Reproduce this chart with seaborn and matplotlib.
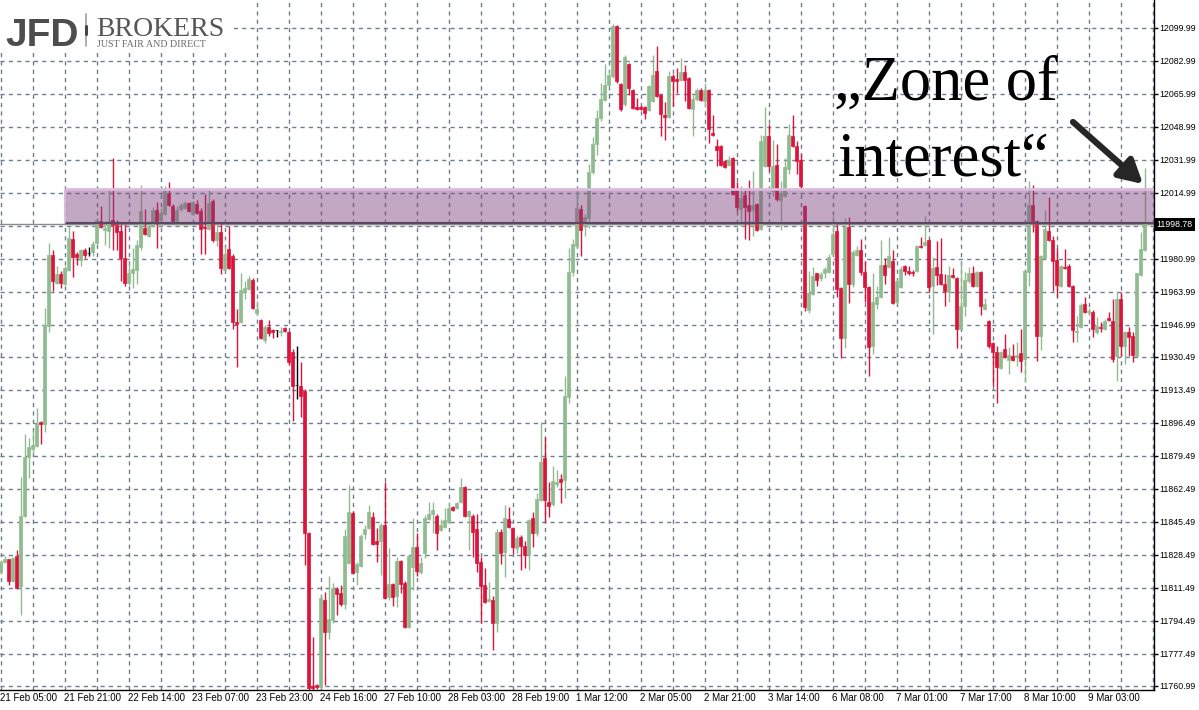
import matplotlib

matplotlib.use("Agg")
import matplotlib.pyplot as plt
import matplotlib.patheffects as pe
from matplotlib.lines import Line2D
from matplotlib.patches import Rectangle
import numpy as np
import seaborn as sns

# hourly DAX candles, 21 Feb 05:00 .. 9 Mar (one entry per bar)
open_ = [
    11819.5, 11825, 11826.5, 11815, 11828, 11812.5, 11848.5, 11879, 11883, 11884.5,
    11897, 11896, 11946.5, 11983, 11968.5, 11973, 11968, 11975.5, 11991.5, 11983.5,
    11980.5, 11985.5, 11984, 11984.5, 11989, 12000.5, 11996, 11995.5, 12001, 11999,
    11995.5, 11981.5, 11968.5, 11973.5, 11975.5, 11987, 11997, 11993, 11998, 12006,
    12001, 12004, 12014.5, 12008.5, 12000.5, 12006.5, 12007, 12010, 12004, 12009.5,
    12005.5, 11997.5, 11996.5, 12011, 11990.5, 11995, 11975.5, 11986, 11982.5, 11948.5,
    11948.5, 11964, 11965.5, 11970, 11953, 11949.5, 11939, 11946, 11944.5, 11944.5,
    11943.5, 11945.5, 11943.5, 11933, 11916, 11915.5, 11913, 11840, 11761, 11761.5,
    11760.5, 11805.5, 11789, 11795, 11811, 11809, 11803, 11824.5, 11850, 11819.5,
    11823, 11839.5, 11842.5, 11848, 11835.5, 11835.5, 11844, 11807, 11813.5, 11807.5,
    11825.5, 11814, 11791.5, 11822.5, 11832.5, 11819.5, 11829.5, 11847, 11849.5, 11848.5,
    11841.5, 11843, 11845.5, 11853, 11852.5, 11856, 11863.5, 11848.5, 11848.5, 11842,
    11825, 11813, 11804.5, 11805.5, 11793.5, 11840.5, 11830, 11847, 11842.5, 11832,
    11837.5, 11833, 11828.5, 11847.5, 11840, 11857, 11878.5, 11856, 11854.5, 11865,
    11867.5, 11867, 11910, 11974.5, 11987.5, 12006.5, 11998, 12002, 12026, 12040,
    12053.5, 12063, 12070.5, 12075.5, 12101, 12071, 12061, 12081.5, 12068, 12059.5,
    12059.5, 12059.5, 12057.5, 12062.5, 12078, 12065.5, 12055, 12054, 12075, 12073.5,
    12073, 12077.5, 12074, 12058, 12063.5, 12068, 12062.5, 12068, 12046, 12039,
    12039, 12031.5, 12029.5, 12033, 12017, 12006.5, 12014, 12009, 12006, 12009.5,
    11996.5, 12029, 12044.5, 12016, 12029.5, 12011.5, 12013.5, 12027.5, 12044.5, 12039,
    12032, 12008.5, 11954.5, 11963, 11973.5, 11971, 11973.5, 11974.5, 11983.5, 11995.5,
    11966, 11940.5, 11997.5, 11968, 11983, 11985.5, 11974.5, 11966.5, 11936, 11958,
    11961.5, 11978, 11977, 11980, 11959, 11966.5, 11977.5, 11975, 11974.5, 11975,
    11987.5, 11988, 11991, 11967, 11977, 11973, 11968, 11964, 11972.5, 11971,
    11945, 11956.5, 11969.5, 11974, 11967, 11974.5, 11955, 11949, 11937.5, 11933,
    11925, 11934.5, 11929, 11931, 11930.5, 11932.5, 11929.5, 11974.5, 12009, 12000.5,
    11941.5, 11981.5, 11995.5, 11990.5, 11980.5, 11967, 11977, 11977.5, 11967, 11943.5,
    11946, 11958, 11953.5, 11953.5, 11943.5, 11946, 11945, 11950.5, 11949, 11931,
    11960.5, 11936, 11943.5, 11941.5, 11931, 11972.5, 11985.5,
]
high_ = [
    11826, 11828, 11826.5, 11827.5, 11831, 11868.5, 11891, 11888.5, 11893, 11904,
    11897.5, 11955.5, 11989, 11985.5, 11977.5, 11975, 11977.5, 11997.5, 11995.5, 11984.5,
    11986, 11986.5, 11987, 11990, 12002, 12008.5, 12000.5, 12016.5, 12033, 12001,
    11999, 11999, 11978.5, 11986.5, 11990.5, 12019, 12006.5, 12000.5, 12008, 12010.5,
    12007, 12018.5, 12020.5, 12009.5, 12008.5, 12010, 12011, 12010.5, 12011, 12011.5,
    12007, 12014.5, 12016.5, 12012, 11997.5, 11999, 11987.5, 11998, 11983.5, 11955,
    11973.5, 11969.5, 11972, 11971, 11959.5, 11950, 11947, 11949.5, 11945, 11944.5,
    11946, 11946, 11944, 11934.5, 11936, 11928, 11914, 11840.5, 11786, 11762,
    11808, 11809.5, 11817.5, 11814, 11812, 11813, 11842, 11864.5, 11851, 11825,
    11839.5, 11844, 11854, 11850.5, 11842.5, 11845, 11866, 11832, 11814, 11827.5,
    11826, 11815, 11828.5, 11847.5, 11840, 11827.5, 11849, 11856, 11856, 11849.5,
    11847, 11852.5, 11856, 11853.5, 11856, 11868, 11864, 11851.5, 11849.5, 11849.5,
    11827.5, 11822, 11814.5, 11807.5, 11842, 11842, 11854, 11853, 11843, 11839,
    11839, 11835.5, 11847, 11850.5, 11860.5, 11897, 11889.5, 11866, 11874.5, 11872.5,
    11870, 11920.5, 11986.5, 11991.5, 12017.5, 12009, 12004, 12030, 12044, 12057.5,
    12071.5, 12081.5, 12078.5, 12102, 12101.5, 12071.5, 12086, 12082, 12068.5, 12064,
    12060.5, 12060, 12070.5, 12086, 12090.5, 12066, 12062, 12078, 12076.5, 12079.5,
    12084.5, 12081, 12074.5, 12065.5, 12069, 12069, 12071.5, 12068.5, 12055, 12043,
    12039.5, 12032, 12034, 12033.5, 12020.5, 12018.5, 12017.5, 12021.5, 12026.5, 12010,
    12045, 12059.5, 12050.5, 12042.5, 12040, 12021, 12033, 12050.5, 12055, 12041.5,
    12035, 12009, 11975, 11977, 11974, 11974.5, 11977, 11983.5, 12003, 11999,
    11966.5, 12002, 12002.5, 11985.5, 11987.5, 11991.5, 11980, 11967, 11973.5, 11967,
    11990.5, 11981.5, 11992.5, 11985.5, 11970.5, 11977.5, 11978, 11977.5, 11975.5, 11988,
    11992.5, 12003, 11991.5, 11982, 11990, 11992, 11973, 11977.5, 11976.5, 11971.5,
    11979.5, 11974.5, 11977, 11977.5, 11975, 11975, 11961, 11949.5, 11938, 11936,
    11933.5, 11942.5, 11935.5, 11937, 11938, 11945, 11975.5, 12021, 12019, 12001,
    11983, 12006, 12013, 11993, 11986.5, 11978, 11986, 11978.5, 11967.5, 11951.5,
    11958.5, 11961.5, 11955.5, 11954.5, 11951, 11948.5, 11950, 11953.5, 11960.5, 11964.5,
    11964, 11944, 11946, 11943.5, 11974, 11995, 12028,
]
low_ = [
    11818.5, 11824.5, 11813, 11814.5, 11811, 11797.5, 11848, 11868, 11880.5, 11884,
    11885.5, 11892, 11943.5, 11964.5, 11968, 11966, 11967.5, 11975, 11971.5, 11978,
    11977.5, 11981.5, 11982.5, 11982.5, 11988.5, 11997, 11988, 11986.5, 11985.5, 11985.5,
    11969.5, 11967, 11967.5, 11966, 11968, 11985.5, 11993.5, 11992.5, 11997.5, 11986.5,
    11998.5, 12003.5, 12008.5, 11999.5, 11998, 12005.5, 12006.5, 12005, 12003.5, 12004,
    11983.5, 11983.5, 11996, 11989.5, 11987.5, 11973, 11975, 11976, 11945, 11925.5,
    11948, 11960.5, 11965, 11955, 11952, 11939.5, 11937.5, 11941.5, 11940.5, 11941,
    11941.5, 11943.5, 11926.5, 11897.5, 11909, 11899.5, 11823.5, 11759, 11759, 11759.5,
    11759.5, 11761.5, 11785, 11793.5, 11797.5, 11802, 11800.5, 11824, 11818.5, 11813,
    11822.5, 11836.5, 11842, 11833.5, 11825, 11818, 11806, 11805.5, 11802, 11801.5,
    11809, 11791, 11791, 11810.5, 11817.5, 11818.5, 11827, 11846.5, 11840, 11831,
    11841, 11842.5, 11845, 11851, 11852, 11855.5, 11848, 11831, 11827.5, 11819.5,
    11793.5, 11803.5, 11804, 11779.5, 11789, 11824, 11817, 11842.5, 11829.5, 11829.5,
    11820.5, 11821.5, 11820.5, 11832.5, 11838.5, 11856.5, 11845.5, 11848, 11853.5, 11863.5,
    11855.5, 11858, 11907, 11972, 11987, 11982.5, 11993, 11997, 12025, 12034.5,
    12052, 12062.5, 12070, 12074, 12071.5, 12057, 12060, 12065.5, 12058, 12057.5,
    12057.5, 12053, 12057, 12062, 12064.5, 12044.5, 12042.5, 12053.5, 12060, 12066.5,
    12072.5, 12062.5, 12058, 12044.5, 12062.5, 12062.5, 12059.5, 12040.5, 12044.5, 12029,
    12029, 12028, 12029, 12014, 12005.5, 11998, 11991.5, 11990.5, 11993, 11995.5,
    11996, 12028.5, 12026.5, 12013.5, 12011, 11996, 12013, 12025, 12038.5, 12025,
    12016.5, 11954, 11953, 11962.5, 11967, 11969.5, 11971, 11974, 11983, 11961.5,
    11930, 11935, 11958.5, 11966.5, 11982.5, 11972.5, 11959, 11920.5, 11932, 11955,
    11961, 11968, 11976.5, 11958, 11958, 11966, 11972.5, 11972.5, 11972, 11974.5,
    11986.5, 11987.5, 11964, 11942.5, 11967.5, 11967.5, 11957, 11959, 11971, 11935,
    11944.5, 11951.5, 11968.5, 11966.5, 11966.5, 11952, 11954.5, 11935, 11915.5, 11907,
    11924.5, 11930, 11921.5, 11928.5, 11926, 11922.5, 11917.5, 11967, 11995, 11928.5,
    11934, 11981, 11990, 11964.5, 11961.5, 11966.5, 11976, 11966.5, 11938, 11938,
    11945.5, 11953, 11952.5, 11941, 11942.5, 11943.5, 11944.5, 11949, 11928, 11918,
    11931, 11927, 11931, 11928, 11930.5, 11972, 11985,
]
close_ = [
    11825, 11826.5, 11815, 11827, 11811.5, 11848.5, 11879, 11884, 11885, 11896.5,
    11896, 11947, 11983, 11969.5, 11973, 11968.5, 11976.5, 11992, 11982, 11982,
    11985.5, 11983, 11984, 11988.5, 12001, 11997.5, 11997, 12000.5, 11998.5, 11995,
    11981.5, 11968.5, 11973.5, 11976, 11988, 12005.5, 11994, 11998, 12006, 12000.5,
    12004.5, 12017.5, 12009, 12000.5, 12006, 12009, 12010, 12005.5, 12010.5, 12004.5,
    11996.5, 11997, 12010, 11990.5, 11995, 11976.5, 11983.5, 11976.5, 11948.5, 11947.5,
    11965, 11966, 11970.5, 11955.5, 11955, 11940, 11946, 11943, 11943.5, 11944.5,
    11944, 11944, 11928, 11915.5, 11916, 11910.5, 11840, 11760, 11760, 11760.5,
    11806.5, 11789, 11795.5, 11811.5, 11808.5, 11803, 11838, 11850.5, 11819, 11824,
    11838, 11842, 11850.5, 11834, 11834, 11844, 11806.5, 11813.5, 11807, 11825.5,
    11813.5, 11791.5, 11828, 11832.5, 11820, 11824.5, 11847.5, 11849.5, 11851.5, 11840,
    11844, 11846.5, 11852.5, 11851.5, 11855.5, 11863.5, 11848.5, 11851, 11840.5, 11824.5,
    11812.5, 11804, 11806, 11793.5, 11840.5, 11829.5, 11847.5, 11843, 11832.5, 11837,
    11833, 11828.5, 11846.5, 11840, 11857.5, 11876.5, 11857, 11853.5, 11866.5, 11866,
    11866, 11910.5, 11974.5, 11988.5, 12007, 11996, 12002.5, 12026, 12040, 12053.5,
    12063.5, 12070.5, 12076, 12101, 12072.5, 12058, 12085, 12069, 12058.5, 12058,
    12058, 12056, 12070, 12076, 12065, 12055.5, 12054, 12075.5, 12072.5, 12072.5,
    12077.5, 12073, 12058.5, 12063.5, 12068, 12063, 12068, 12048, 12045, 12037,
    12029.5, 12028.5, 12032, 12014.5, 12008, 12012.5, 12008, 12005.5, 12009, 11996,
    12042, 12044.5, 12029, 12029, 12012, 12015, 12028.5, 12045, 12039, 12031.5,
    12018.5, 11956, 11963.5, 11972, 11970, 11973, 11976, 11982, 11994, 11965.5,
    11940.5, 11997.5, 11968, 11984.5, 11985.5, 11974.5, 11966.5, 11935.5, 11959, 11961.5,
    11978, 11972.5, 11982.5, 11958.5, 11969.5, 11976, 11975, 11973.5, 11974, 11987.5,
    11987, 11989.5, 11966.5, 11976.5, 11972.5, 11968, 11964.5, 11972.5, 11971.5, 11945,
    11956.5, 11970, 11974, 11967, 11974.5, 11957, 11958, 11936, 11933, 11925.5,
    11933, 11930.5, 11931.5, 11929, 11931.5, 11928.5, 11975, 12009, 12000.5, 11941.5,
    11982.5, 11996.5, 11990.5, 11980, 11967.5, 11977.5, 11976.5, 11967, 11944.5, 11944,
    11957.5, 11953.5, 11954, 11945, 11946.5, 11945.5, 11949, 11949.5, 11929.5, 11960.5,
    11936, 11943.5, 11941, 11931.5, 11973.5, 11986, 11998.78,
]

time_labels = [
    "21 Feb 05:00", "21 Feb 21:00", "22 Feb 14:00", "23 Feb 07:00", "23 Feb 23:00",
    "24 Feb 16:00", "27 Feb 10:00", "28 Feb 03:00", "28 Feb 19:00", "1 Mar 12:00",
    "2 Mar 05:00", "2 Mar 21:00", "3 Mar 14:00", "6 Mar 08:00", "7 Mar 01:00",
    "7 Mar 17:00", "8 Mar 10:00", "9 Mar 03:00",
]
price_ticks = [
    12099.99, 12082.99, 12065.99, 12048.99, 12031.99, 12014.99, 11997.99, 11980.99,
    11963.99, 11946.99, 11930.49, 11913.49, 11896.49, 11879.49, 11862.49, 11845.49,
    11828.49, 11811.49, 11794.49, 11777.49, 11760.99,
]
price_labels = [
    "12099.99", "12082.99", "12065.99", "12048.99", "12031.99", "12014.99", "",
    "11980.99", "11963.99", "11946.99", "11930.49", "11913.49", "11896.49", "11879.49",
    "11862.49", "11845.49", "11828.49", "11811.49", "11794.49", "11777.49", "11760.99",
]
last_price = 11998.78
zone_low, zone_high = 11999.7, 12016.8
zone_start = 16  # bar index where the marked zone begins

sns.set_style("white")
plt.rcParams["font.family"] = ["Liberation Sans", "DejaVu Sans"]

BULL = "#8fbc8f"
BEAR = "#dc143c"
GRID = "#6f7d90"

o = np.array(open_)
h = np.array(high_)
l = np.array(low_)
c = np.array(close_)
n = len(c)
x = np.arange(n)
colors = np.where(c > o, BULL, np.where(c < o, BEAR, "black"))

fig = plt.figure(figsize=(11.99, 7.10), dpi=100)
ax = fig.add_axes([0, 20 / 710, 1154 / 1199, 690 / 710])
x_right = n + 1.375
ax.set_xlim(-0.125, x_right)
ax.set_ylim(11758.9, 12114.4)

# dashed grid (MT4 style)
dash = (0, (3, 3))
for t in price_ticks:
    ax.axhline(t, color=GRID, lw=1, ls=dash, zorder=0)
for k in range(0, n + 2, 8):
    ax.axvline(k, color=GRID, lw=1, ls=dash, zorder=0)

ax.axhline(last_price, color="#8a8a8a", lw=1, zorder=1)

# candles
ax.vlines(x, l, h, colors=colors, lw=1, zorder=2)
ax.bar(x, c - o, bottom=o, width=0.72, color=colors, edgecolor=colors, lw=0.5, zorder=3)

# zone of interest
ax.add_patch(Rectangle((zone_start, zone_low - 2.2), x_right - zone_start, 2.2,
                       facecolor="#9a9a9a", alpha=0.18, lw=0, zorder=4))
ax.add_patch(Rectangle((zone_start, zone_low), x_right - zone_start, zone_high - zone_low,
                       facecolor="#7b3f7e", alpha=0.45, lw=0, zorder=4))
ax.hlines(zone_high, zone_start, x_right, color="#dcb9de", lw=2, zorder=4.2)
ax.hlines(zone_low, zone_start, x_right, color="#5b4862", lw=1.5, zorder=4.2)
ax.vlines(zone_start, zone_low, zone_high, color="#dcb9de", lw=1.5, zorder=4.2)

# axes / ticks
for side in ("top", "left"):
    ax.spines[side].set_visible(False)
for side in ("right", "bottom"):
    ax.spines[side].set_color("black")
    ax.spines[side].set_linewidth(1)
ax.yaxis.tick_right()
ax.set_yticks(price_ticks)
ax.set_yticklabels(price_labels)
ax.tick_params(axis="y", direction="out", length=3, width=1, pad=1, labelsize=6.3,
               colors="black")
ax.set_xticks(np.arange(0, 16 * len(time_labels), 16))
ax.set_xticklabels(time_labels, ha="left")
ax.tick_params(axis="x", direction="in", length=4, width=1, pad=2, labelsize=7,
               colors="black")

ax.text(1.002, last_price, "11998.78", transform=ax.get_yaxis_transform(),
        color="white", fontsize=6.3, va="center", ha="left", clip_on=False, zorder=10,
        bbox=dict(facecolor="black", edgecolor="none", pad=1.6))

# annotation
serif = ["Liberation Serif", "DejaVu Serif"]
fig.text(834 / 1199, 1 - 100 / 710, "\u201eZone of", fontsize=45, family=serif,
         va="baseline", ha="left", color="black")
fig.text(838 / 1199, 1 - 176 / 710, "interest\u201c", fontsize=45, family=serif,
         va="baseline", ha="left", color="black")
arr = ax.annotate("", xy=(1143, 710 - 184), xytext=(1073, 710 - 122),
                  xycoords="figure pixels", textcoords="figure pixels",
                  arrowprops=dict(arrowstyle="-|>,head_length=1.0,head_width=0.55",
                                  mutation_scale=14, lw=4.5, color="#262626",
                                  shrinkA=0, shrinkB=0))
arr.arrow_patch.set_path_effects([pe.SimplePatchShadow(offset=(2, -2), alpha=0.35),
                                  pe.Normal()])

# broker logo
fig.add_artist(Rectangle((0, 1 - 50 / 710), 230 / 1199, 50 / 710, transform=fig.transFigure,
                         facecolor="white", edgecolor="none", zorder=5))
fig.text(5 / 1199, 1 - 46 / 710, "JFD", fontsize=28, fontweight="bold", color="#4d4d50",
         va="baseline", ha="left", zorder=6)
fig.add_artist(Line2D([86 / 1199, 86 / 1199], [1 - 14 / 710, 1 - 46 / 710],
                      transform=fig.transFigure, color="#a0a0a0", lw=1.2, zorder=6))
fig.add_artist(Line2D([86 / 1199, 86 / 1199], [1 - 26 / 710, 1 - 34 / 710],
                      transform=fig.transFigure, color="#444444", lw=2.2, zorder=6))
fig.text(96 / 1199, 1 - 36 / 710, "BROKERS", fontsize=20, family=serif, color="#56565a",
         va="baseline", ha="left", zorder=6)
fig.text(97 / 1199, 1 - 47 / 710, "JUST FAIR AND DIRECT", fontsize=7.2, family=serif,
         color="#6a6a6a", va="baseline", ha="left", zorder=6)

fig.savefig("out.png", dpi=100, facecolor="white")
